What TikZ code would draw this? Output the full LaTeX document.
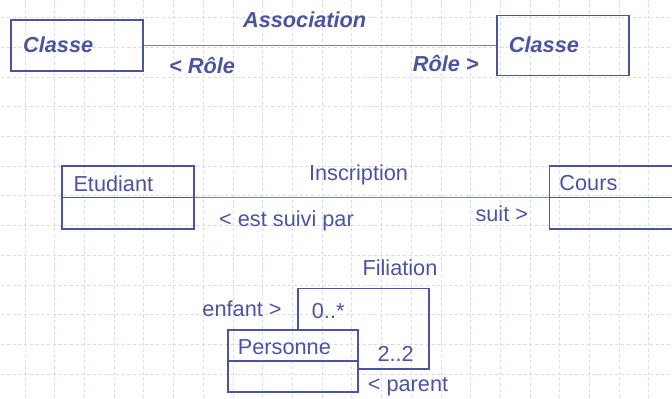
\documentclass[tikz,border=0pt]{standalone}
\usepackage{fontspec}
\setmainfont{Liberation Sans}
\usepackage{tikz}
\definecolor{umlblue}{RGB}{76,84,160}
\definecolor{linkblue}{RGB}{122,130,190}
\definecolor{gridblue}{RGB}{212,220,248}
\tikzset{
  classbox/.style={draw=umlblue, line width=1.4pt, inner sep=0pt, minimum width=4.444cm},
  assoc/.style={draw=linkblue, line width=0.9pt},
  lbl/.style={text=umlblue, inner sep=0pt, anchor=base west, font=\fontsize{20.8}{24}\selectfont},
  boldlbl/.style={lbl, font=\fontsize{20.8}{24}\selectfont\bfseries\itshape}
}

\begin{document}
\begin{tikzpicture}

    % Frame of the slide
    \clip (0,0) rectangle (22.626,13.401);

    % Background grid
    \draw[gridblue, line width=0.6pt, dash pattern=on 3pt off 2.5pt, shift={(0.842,0.81)}] (-1,-1) grid (22,13);

    % Generic association
    \node[classbox, minimum height=1.72cm] (classeA) at (2.593,11.87) {};
    \node[classbox, minimum height=2.02cm] (classeB) at (18.956,11.87) {};
    \node[boldlbl] (classeAtxt) at (0.774,11.65) {Classe};
    \node[boldlbl] (classeBtxt) at (17.128,11.63) {Classe};
    \draw[assoc] (classeA.east) -- (classeB.west);
    \node[boldlbl] (assocTxt) at (8.18,12.49) {Association};
    \node[boldlbl] (roleA) at (5.69,10.91) {< Rôle};
    \node[boldlbl] (roleB) at (13.896,10.99) {Rôle >};

    % Etudiant -- Cours
    \node[classbox, minimum height=2.121cm] (etud) at (4.31,6.75) {};
    \draw[umlblue, line width=1.4pt] (etud.west) -- (etud.east);
    \node[lbl] (etudTxt) at (2.468,6.96) {Etudiant};
    \node[classbox, minimum height=2.121cm] (cours) at (20.73,6.75) {};
    \draw[umlblue, line width=1.4pt] (cours.west) -- (cours.east);
    \node[lbl] (coursTxt) at (18.83,6.98) {Cours};
    \draw[assoc] (etud.east) -- (cours.west);
    \node[lbl] (inscTxt) at (10.40,7.34) {Inscription};
    \node[lbl] (suiviTxt) at (7.374,5.79) {< est suivi par};
    \node[lbl] (suitTxt) at (16.003,5.94) {suit >};

    % Filiation (self association)
    \node[classbox, minimum width=4.377cm, minimum height=2.088cm] (pers) at (9.866,1.246) {};
    \draw[umlblue, line width=1.4pt] (pers.west) -- (pers.east);
    \node[lbl] (persTxt) at (8.003,1.48) {Personne};
    \coordinate (filCorner) at (14.444,3.694);
    \draw[umlblue, line width=1.4pt] ([xshift=0.17cm]pers.north) |- (filCorner) |- ([yshift=-0.27cm]pers.east);
    \node[lbl] (filTxt) at (12.199,4.11) {Filiation};
    \node[lbl] (enfantTxt) at (6.811,2.74) {enfant >};
    \node[lbl] (multA) at (10.495,2.68) {0..*};
    \node[lbl] (multB) at (12.704,1.22) {2..2};
    \node[lbl] (parentTxt) at (12.38,0.21) {< parent};

\end{tikzpicture}
\end{document}
